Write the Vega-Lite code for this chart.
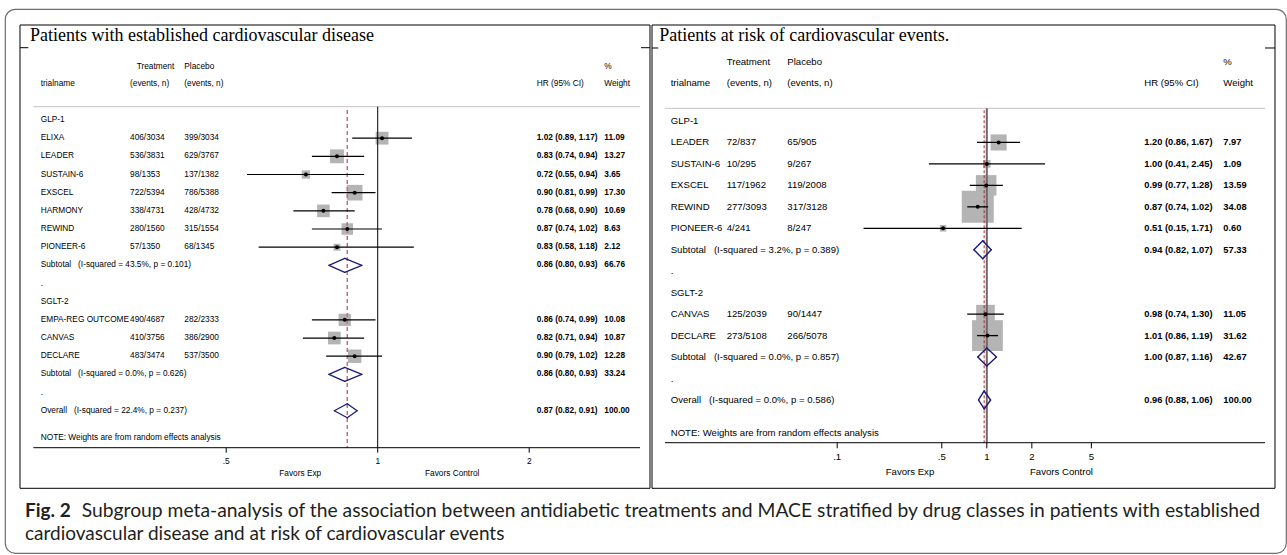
{
"$schema": "https://vega.github.io/schema/vega-lite/v6.json",
"width": 1281, "height": 544,
"padding": {"left": 5, "top": 9, "right": 1, "bottom": 2},
"background": "white",
"config": {"view": {"stroke": "#6f6f6f", "strokeWidth": 1.2, "cornerRadius": 10}},
"datasets": {
"one": [{}],
"left": [
{"row":1,"label":"GLP-1","kind":"group"},
{"row":2,"label":"ELIXA","treat":"406/3034","placebo":"399/3034","hrtext":"1.02 (0.89, 1.17)","wt":11.09,"hr":1.02,"lo":0.89,"hi":1.17,"kind":"study"},
{"row":3,"label":"LEADER","treat":"536/3831","placebo":"629/3767","hrtext":"0.83 (0.74, 0.94)","wt":13.27,"hr":0.83,"lo":0.74,"hi":0.94,"kind":"study"},
{"row":4,"label":"SUSTAIN-6","treat":"98/1353","placebo":"137/1382","hrtext":"0.72 (0.55, 0.94)","wt":3.65,"hr":0.72,"lo":0.55,"hi":0.94,"kind":"study"},
{"row":5,"label":"EXSCEL","treat":"722/5394","placebo":"786/5388","hrtext":"0.90 (0.81, 0.99)","wt":17.30,"hr":0.90,"lo":0.81,"hi":0.99,"kind":"study"},
{"row":6,"label":"HARMONY","treat":"338/4731","placebo":"428/4732","hrtext":"0.78 (0.68, 0.90)","wt":10.69,"hr":0.78,"lo":0.68,"hi":0.90,"kind":"study"},
{"row":7,"label":"REWIND","treat":"280/1560","placebo":"315/1554","hrtext":"0.87 (0.74, 1.02)","wt":8.63,"hr":0.87,"lo":0.74,"hi":1.02,"kind":"study"},
{"row":8,"label":"PIONEER-6","treat":"57/1350","placebo":"68/1345","hrtext":"0.83 (0.58, 1.18)","wt":2.12,"hr":0.83,"lo":0.58,"hi":1.18,"kind":"study"},
{"row":9,"label":"Subtotal\u00a0\u00a0\u00a0(I-squared = 43.5%, p = 0.101)","hrtext":"0.86 (0.80, 0.93)","wt":66.76,"hr":0.86,"lo":0.80,"hi":0.93,"kind":"sub"},
{"row":10,"label":".","kind":"blank"},
{"row":11,"label":"SGLT-2","kind":"group"},
{"row":12,"label":"EMPA-REG OUTCOME","treat":"490/4687","placebo":"282/2333","hrtext":"0.86 (0.74, 0.99)","wt":10.08,"hr":0.86,"lo":0.74,"hi":0.99,"kind":"study"},
{"row":13,"label":"CANVAS","treat":"410/3756","placebo":"386/2900","hrtext":"0.82 (0.71, 0.94)","wt":10.87,"hr":0.82,"lo":0.71,"hi":0.94,"kind":"study"},
{"row":14,"label":"DECLARE","treat":"483/3474","placebo":"537/3500","hrtext":"0.90 (0.79, 1.02)","wt":12.28,"hr":0.90,"lo":0.79,"hi":1.02,"kind":"study"},
{"row":15,"label":"Subtotal\u00a0\u00a0\u00a0(I-squared = 0.0%, p = 0.626)","hrtext":"0.86 (0.80, 0.93)","wt":33.24,"hr":0.86,"lo":0.80,"hi":0.93,"kind":"sub"},
{"row":16,"label":".","kind":"blank"},
{"row":17,"label":"Overall\u00a0\u00a0\u00a0(I-squared = 22.4%, p = 0.237)","hrtext":"0.87 (0.82, 0.91)","wt":100.00,"hr":0.87,"lo":0.82,"hi":0.91,"kind":"overall"}
],
"right": [
{"row":1,"label":"GLP-1","kind":"group"},
{"row":2,"label":"LEADER","treat":"72/837","placebo":"65/905","hrtext":"1.20 (0.86, 1.67)","wt":7.97,"hr":1.20,"lo":0.86,"hi":1.67,"kind":"study"},
{"row":3,"label":"SUSTAIN-6","treat":"10/295","placebo":"9/267","hrtext":"1.00 (0.41, 2.45)","wt":1.09,"hr":1.00,"lo":0.41,"hi":2.45,"kind":"study"},
{"row":4,"label":"EXSCEL","treat":"117/1962","placebo":"119/2008","hrtext":"0.99 (0.77, 1.28)","wt":13.59,"hr":0.99,"lo":0.77,"hi":1.28,"kind":"study"},
{"row":5,"label":"REWIND","treat":"277/3093","placebo":"317/3128","hrtext":"0.87 (0.74, 1.02)","wt":34.08,"hr":0.87,"lo":0.74,"hi":1.02,"kind":"study"},
{"row":6,"label":"PIONEER-6","treat":"4/241","placebo":"8/247","hrtext":"0.51 (0.15, 1.71)","wt":0.60,"hr":0.51,"lo":0.15,"hi":1.71,"kind":"study"},
{"row":7,"label":"Subtotal\u00a0\u00a0\u00a0(I-squared = 3.2%, p = 0.389)","hrtext":"0.94 (0.82, 1.07)","wt":57.33,"hr":0.94,"lo":0.82,"hi":1.07,"kind":"sub"},
{"row":8,"label":".","kind":"blank"},
{"row":9,"label":"SGLT-2","kind":"group"},
{"row":10,"label":"CANVAS","treat":"125/2039","placebo":"90/1447","hrtext":"0.98 (0.74, 1.30)","wt":11.05,"hr":0.98,"lo":0.74,"hi":1.30,"kind":"study"},
{"row":11,"label":"DECLARE","treat":"273/5108","placebo":"266/5078","hrtext":"1.01 (0.86, 1.19)","wt":31.62,"hr":1.01,"lo":0.86,"hi":1.19,"kind":"study"},
{"row":12,"label":"Subtotal\u00a0\u00a0\u00a0(I-squared = 0.0%, p = 0.857)","hrtext":"1.00 (0.87, 1.16)","wt":42.67,"hr":1.00,"lo":0.87,"hi":1.16,"kind":"sub"},
{"row":13,"label":".","kind":"blank"},
{"row":14,"label":"Overall\u00a0\u00a0\u00a0(I-squared = 0.0%, p = 0.586)","hrtext":"0.96 (0.88, 1.06)","wt":100.00,"hr":0.96,"lo":0.88,"hi":1.06,"kind":"overall"}
],
"lticks": [{"v":0.5,"lab":".5"},{"v":1,"lab":"1"},{"v":2,"lab":"2"}],
"rticks": [{"v":0.1,"lab":".1"},{"v":0.5,"lab":".5"},{"v":1,"lab":"1"},{"v":2,"lab":"2"},{"v":5,"lab":"5"}]
},
"layer": [
{
"layer": [
{"data":{"name":"one"},"mark":{"type":"rect","fillOpacity":0,"stroke":"#000","strokeWidth":1},
 "encoding":{"x":{"datum":0.19463,"type":"quantitative","scale":{"type":"log","domain":[0.18173,63.796],"nice":false},"axis":null},"x2":{"datum":3.4757},
 "y":{"datum":-4.228,"type":"quantitative","scale":{"domain":[-5.109,24.8305],"reverse":true,"nice":false,"zero":false},"axis":null},"y2":{"datum":21.27}}},
{"data":{"name":"one"},"mark":{"type":"rule","color":"#000","strokeWidth":1},
 "encoding":{"x":{"datum":0.19463,"type":"quantitative","scale":{"type":"log","domain":[0.18173,63.796],"nice":false},"axis":null},"x2":{"datum":0.20218},
 "y":{"datum":-2.979,"type":"quantitative","scale":{"domain":[-5.109,24.8305],"reverse":true,"nice":false,"zero":false},"axis":null}}},
{"data":{"name":"one"},"mark":{"type":"rule","color":"#000","strokeWidth":1},
 "encoding":{"x":{"datum":3.3355,"type":"quantitative","scale":{"type":"log","domain":[0.18173,63.796],"nice":false},"axis":null},"x2":{"datum":3.4757},
 "y":{"datum":-2.979,"type":"quantitative","scale":{"domain":[-5.109,24.8305],"reverse":true,"nice":false,"zero":false},"axis":null}}},
{"data":{"name":"one"},"mark":{"type":"text","align":"left","baseline":"alphabetic","font":"Liberation Serif","fontSize":18,"color":"#000"},
 "encoding":{"x":{"datum":0.20376,"type":"quantitative","scale":{"type":"log","domain":[0.18173,63.796],"nice":false},"axis":null},
 "y":{"datum":-3.348,"type":"quantitative","scale":{"domain":[-5.109,24.8305],"reverse":true,"nice":false,"zero":false},"axis":null},
 "text":{"value":"Patients with established cardiovascular disease"}}},
{"data":{"name":"one"},"mark":{"type":"text","align":"left","baseline":"middle","font":"Liberation Sans","fontSize":8.3,"color":"#000"},
 "encoding":{"x":{"datum":0.3320,"type":"quantitative","scale":{"type":"log","domain":[0.18173,63.796],"nice":false},"axis":null},
 "y":{"datum":-1.93,"type":"quantitative","scale":{"domain":[-5.109,24.8305],"reverse":true,"nice":false,"zero":false},"axis":null},"text":{"value":"Treatment"}}},
{"data":{"name":"one"},"mark":{"type":"text","align":"left","baseline":"middle","font":"Liberation Sans","fontSize":8.3,"color":"#000"},
 "encoding":{"x":{"datum":0.41275,"type":"quantitative","scale":{"type":"log","domain":[0.18173,63.796],"nice":false},"axis":null},
 "y":{"datum":-1.93,"type":"quantitative","scale":{"domain":[-5.109,24.8305],"reverse":true,"nice":false,"zero":false},"axis":null},"text":{"value":"Placebo"}}},
{"data":{"name":"one"},"mark":{"type":"text","align":"left","baseline":"middle","font":"Liberation Sans","fontSize":8.3,"color":"#000"},
 "encoding":{"x":{"datum":2.8200,"type":"quantitative","scale":{"type":"log","domain":[0.18173,63.796],"nice":false},"axis":null},
 "y":{"datum":-1.93,"type":"quantitative","scale":{"domain":[-5.109,24.8305],"reverse":true,"nice":false,"zero":false},"axis":null},"text":{"value":"%"}}},
{"data":{"name":"one"},"mark":{"type":"text","align":"left","baseline":"middle","font":"Liberation Sans","fontSize":8.3,"color":"#000"},
 "encoding":{"x":{"datum":0.21398,"type":"quantitative","scale":{"type":"log","domain":[0.18173,63.796],"nice":false},"axis":null},
 "y":{"datum":-0.97,"type":"quantitative","scale":{"domain":[-5.109,24.8305],"reverse":true,"nice":false,"zero":false},"axis":null},"text":{"value":"trialname"}}},
{"data":{"name":"one"},"mark":{"type":"text","align":"left","baseline":"middle","font":"Liberation Sans","fontSize":8.3,"color":"#000"},
 "encoding":{"x":{"datum":0.3220,"type":"quantitative","scale":{"type":"log","domain":[0.18173,63.796],"nice":false},"axis":null},
 "y":{"datum":-0.97,"type":"quantitative","scale":{"domain":[-5.109,24.8305],"reverse":true,"nice":false,"zero":false},"axis":null},"text":{"value":"(events, n)"}}},
{"data":{"name":"one"},"mark":{"type":"text","align":"left","baseline":"middle","font":"Liberation Sans","fontSize":8.3,"color":"#000"},
 "encoding":{"x":{"datum":0.41275,"type":"quantitative","scale":{"type":"log","domain":[0.18173,63.796],"nice":false},"axis":null},
 "y":{"datum":-0.97,"type":"quantitative","scale":{"domain":[-5.109,24.8305],"reverse":true,"nice":false,"zero":false},"axis":null},"text":{"value":"(events, n)"}}},
{"data":{"name":"one"},"mark":{"type":"text","align":"left","baseline":"middle","font":"Liberation Sans","fontSize":8.3,"color":"#000"},
 "encoding":{"x":{"datum":2.0699,"type":"quantitative","scale":{"type":"log","domain":[0.18173,63.796],"nice":false},"axis":null},
 "y":{"datum":-0.97,"type":"quantitative","scale":{"domain":[-5.109,24.8305],"reverse":true,"nice":false,"zero":false},"axis":null},"text":{"value":"HR (95% CI)"}}},
{"data":{"name":"one"},"mark":{"type":"text","align":"left","baseline":"middle","font":"Liberation Sans","fontSize":8.3,"color":"#000"},
 "encoding":{"x":{"datum":2.8200,"type":"quantitative","scale":{"type":"log","domain":[0.18173,63.796],"nice":false},"axis":null},
 "y":{"datum":-0.97,"type":"quantitative","scale":{"domain":[-5.109,24.8305],"reverse":true,"nice":false,"zero":false},"axis":null},"text":{"value":"Weight"}}},
{"data":{"name":"one"},"mark":{"type":"rule","color":"#c4c4c4","strokeWidth":1},
 "encoding":{"x":{"datum":0.20686,"type":"quantitative","scale":{"type":"log","domain":[0.18173,63.796],"nice":false},"axis":null},"x2":{"datum":3.3203},
 "y":{"datum":0.268,"type":"quantitative","scale":{"domain":[-5.109,24.8305],"reverse":true,"nice":false,"zero":false},"axis":null}}},
{"data":{"name":"left"},"transform":[{"filter":"datum.kind == 'study'"}],"mark":{"type":"square","color":"#b4b4b4","opacity":1},
 "encoding":{"x":{"field":"hr","type":"quantitative","scale":{"type":"log","domain":[0.18173,63.796],"nice":false},"axis":null},
 "y":{"field":"row","type":"quantitative","scale":{"domain":[-5.109,24.8305],"reverse":true,"nice":false,"zero":false},"axis":null},
 "size":{"field":"wt","type":"quantitative","scale":{"domain":[0,20],"range":[20,280]},"legend":null}}},
{"data":{"name":"one"},"mark":{"type":"rule","color":"#000","strokeWidth":1},
 "encoding":{"x":{"datum":1,"type":"quantitative","scale":{"type":"log","domain":[0.18173,63.796],"nice":false},"axis":null},
 "y":{"datum":0.268,"type":"quantitative","scale":{"domain":[-5.109,24.8305],"reverse":true,"nice":false,"zero":false},"axis":null},"y2":{"datum":19.035}}},
{"data":{"name":"left"},"transform":[{"filter":"datum.kind == 'overall'"}],"mark":{"type":"rule","color":"#c0707c","strokeWidth":1.5,"strokeDash":[4,3]},
 "encoding":{"x":{"field":"hr","type":"quantitative","scale":{"type":"log","domain":[0.18173,63.796],"nice":false},"axis":null},
 "y":{"datum":0.45,"type":"quantitative","scale":{"domain":[-5.109,24.8305],"reverse":true,"nice":false,"zero":false},"axis":null},"y2":{"datum":19.035}}},
{"data":{"name":"left"},"transform":[{"filter":"datum.kind == 'study'"}],"mark":{"type":"rule","color":"#000","strokeWidth":1.2},
 "encoding":{"x":{"field":"lo","type":"quantitative","scale":{"type":"log","domain":[0.18173,63.796],"nice":false},"axis":null},"x2":{"field":"hi"},
 "y":{"field":"row","type":"quantitative","scale":{"domain":[-5.109,24.8305],"reverse":true,"nice":false,"zero":false},"axis":null}}},
{"data":{"name":"left"},"transform":[{"filter":"datum.kind == 'study'"}],"mark":{"type":"point","filled":true,"shape":"circle","size":16,"color":"#000","opacity":1},
 "encoding":{"x":{"field":"hr","type":"quantitative","scale":{"type":"log","domain":[0.18173,63.796],"nice":false},"axis":null},
 "y":{"field":"row","type":"quantitative","scale":{"domain":[-5.109,24.8305],"reverse":true,"nice":false,"zero":false},"axis":null}}},
{"data":{"name":"left"},"transform":[{"filter":"datum.kind == 'sub' || datum.kind == 'overall'"}],"mark":{"type":"rule","color":"#1c1c78","strokeWidth":1.3,"strokeCap":"round","y2Offset":-7},
 "encoding":{"x":{"field":"lo","type":"quantitative","scale":{"type":"log","domain":[0.18173,63.796],"nice":false},"axis":null},"x2":{"field":"hr"},
 "y":{"field":"row","type":"quantitative","scale":{"domain":[-5.109,24.8305],"reverse":true,"nice":false,"zero":false},"axis":null},"y2":{"field":"row"}}},
{"data":{"name":"left"},"transform":[{"filter":"datum.kind == 'sub' || datum.kind == 'overall'"}],"mark":{"type":"rule","color":"#1c1c78","strokeWidth":1.3,"strokeCap":"round","yOffset":-7},
 "encoding":{"x":{"field":"hr","type":"quantitative","scale":{"type":"log","domain":[0.18173,63.796],"nice":false},"axis":null},"x2":{"field":"hi"},
 "y":{"field":"row","type":"quantitative","scale":{"domain":[-5.109,24.8305],"reverse":true,"nice":false,"zero":false},"axis":null},"y2":{"field":"row"}}},
{"data":{"name":"left"},"transform":[{"filter":"datum.kind == 'sub' || datum.kind == 'overall'"}],"mark":{"type":"rule","color":"#1c1c78","strokeWidth":1.3,"strokeCap":"round","y2Offset":7},
 "encoding":{"x":{"field":"hi","type":"quantitative","scale":{"type":"log","domain":[0.18173,63.796],"nice":false},"axis":null},"x2":{"field":"hr"},
 "y":{"field":"row","type":"quantitative","scale":{"domain":[-5.109,24.8305],"reverse":true,"nice":false,"zero":false},"axis":null},"y2":{"field":"row"}}},
{"data":{"name":"left"},"transform":[{"filter":"datum.kind == 'sub' || datum.kind == 'overall'"}],"mark":{"type":"rule","color":"#1c1c78","strokeWidth":1.3,"strokeCap":"round","yOffset":7},
 "encoding":{"x":{"field":"hr","type":"quantitative","scale":{"type":"log","domain":[0.18173,63.796],"nice":false},"axis":null},"x2":{"field":"lo"},
 "y":{"field":"row","type":"quantitative","scale":{"domain":[-5.109,24.8305],"reverse":true,"nice":false,"zero":false},"axis":null},"y2":{"field":"row"}}},
{"data":{"name":"left"},"mark":{"type":"text","align":"left","baseline":"middle","font":"Liberation Sans","fontSize":8.3,"color":"#000"},
 "encoding":{"x":{"datum":0.21398,"type":"quantitative","scale":{"type":"log","domain":[0.18173,63.796],"nice":false},"axis":null},
 "y":{"field":"row","type":"quantitative","scale":{"domain":[-5.109,24.8305],"reverse":true,"nice":false,"zero":false},"axis":null},"text":{"field":"label"}}},
{"data":{"name":"left"},"transform":[{"filter":"isValid(datum.treat)"}],"mark":{"type":"text","align":"left","baseline":"middle","font":"Liberation Sans","fontSize":8.3,"color":"#000"},
 "encoding":{"x":{"datum":0.3220,"type":"quantitative","scale":{"type":"log","domain":[0.18173,63.796],"nice":false},"axis":null},
 "y":{"field":"row","type":"quantitative","scale":{"domain":[-5.109,24.8305],"reverse":true,"nice":false,"zero":false},"axis":null},"text":{"field":"treat"}}},
{"data":{"name":"left"},"transform":[{"filter":"isValid(datum.placebo)"}],"mark":{"type":"text","align":"left","baseline":"middle","font":"Liberation Sans","fontSize":8.3,"color":"#000"},
 "encoding":{"x":{"datum":0.41275,"type":"quantitative","scale":{"type":"log","domain":[0.18173,63.796],"nice":false},"axis":null},
 "y":{"field":"row","type":"quantitative","scale":{"domain":[-5.109,24.8305],"reverse":true,"nice":false,"zero":false},"axis":null},"text":{"field":"placebo"}}},
{"data":{"name":"left"},"transform":[{"filter":"isValid(datum.hrtext)"}],"mark":{"type":"text","align":"left","baseline":"middle","font":"Liberation Sans","fontSize":8.3,"fontWeight":"bold","color":"#000"},
 "encoding":{"x":{"datum":2.0699,"type":"quantitative","scale":{"type":"log","domain":[0.18173,63.796],"nice":false},"axis":null},
 "y":{"field":"row","type":"quantitative","scale":{"domain":[-5.109,24.8305],"reverse":true,"nice":false,"zero":false},"axis":null},"text":{"field":"hrtext"}}},
{"data":{"name":"left"},"transform":[{"filter":"isValid(datum.wt)"}],"mark":{"type":"text","align":"left","baseline":"middle","font":"Liberation Sans","fontSize":8.3,"fontWeight":"bold","color":"#000"},
 "encoding":{"x":{"datum":2.8200,"type":"quantitative","scale":{"type":"log","domain":[0.18173,63.796],"nice":false},"axis":null},
 "y":{"field":"row","type":"quantitative","scale":{"domain":[-5.109,24.8305],"reverse":true,"nice":false,"zero":false},"axis":null},"text":{"field":"wt","type":"quantitative","format":".2f"}}},
{"data":{"name":"one"},"mark":{"type":"text","align":"left","baseline":"middle","font":"Liberation Sans","fontSize":8.3,"color":"#000"},
 "encoding":{"x":{"datum":0.21398,"type":"quantitative","scale":{"type":"log","domain":[0.18173,63.796],"nice":false},"axis":null},
 "y":{"datum":18.518,"type":"quantitative","scale":{"domain":[-5.109,24.8305],"reverse":true,"nice":false,"zero":false},"axis":null},"text":{"value":"NOTE: Weights are from random effects analysis"}}},
{"data":{"name":"one"},"mark":{"type":"rule","color":"#000","strokeWidth":1},
 "encoding":{"x":{"datum":0.20686,"type":"quantitative","scale":{"type":"log","domain":[0.18173,63.796],"nice":false},"axis":null},"x2":{"datum":3.3203},
 "y":{"datum":19.035,"type":"quantitative","scale":{"domain":[-5.109,24.8305],"reverse":true,"nice":false,"zero":false},"axis":null}}},
{"data":{"name":"lticks"},"mark":{"type":"rule","color":"#000","strokeWidth":1},
 "encoding":{"x":{"field":"v","type":"quantitative","scale":{"type":"log","domain":[0.18173,63.796],"nice":false},"axis":null},
 "y":{"datum":19.035,"type":"quantitative","scale":{"domain":[-5.109,24.8305],"reverse":true,"nice":false,"zero":false},"axis":null},"y2":{"datum":19.31}}},
{"data":{"name":"lticks"},"mark":{"type":"text","align":"center","baseline":"middle","font":"Liberation Sans","fontSize":8.3,"color":"#000"},
 "encoding":{"x":{"field":"v","type":"quantitative","scale":{"type":"log","domain":[0.18173,63.796],"nice":false},"axis":null},
 "y":{"datum":19.806,"type":"quantitative","scale":{"domain":[-5.109,24.8305],"reverse":true,"nice":false,"zero":false},"axis":null},"text":{"field":"lab"}}},
{"data":{"name":"one"},"mark":{"type":"text","align":"left","baseline":"middle","font":"Liberation Sans","fontSize":8.3,"color":"#000"},
 "encoding":{"x":{"datum":0.6374,"type":"quantitative","scale":{"type":"log","domain":[0.18173,63.796],"nice":false},"axis":null},
 "y":{"datum":20.483,"type":"quantitative","scale":{"domain":[-5.109,24.8305],"reverse":true,"nice":false,"zero":false},"axis":null},"text":{"value":"Favors Exp"}}},
{"data":{"name":"one"},"mark":{"type":"text","align":"left","baseline":"middle","font":"Liberation Sans","fontSize":8.3,"color":"#000"},
 "encoding":{"x":{"datum":1.2415,"type":"quantitative","scale":{"type":"log","domain":[0.18173,63.796],"nice":false},"axis":null},
 "y":{"datum":20.483,"type":"quantitative","scale":{"domain":[-5.109,24.8305],"reverse":true,"nice":false,"zero":false},"axis":null},"text":{"value":"Favors Control"}}},
{"data":{"name":"one"},"mark":{"type":"text","align":"left","baseline":"alphabetic","font":"Lato","fontSize":19,"fontWeight":"bold","color":"#231f20"},
 "encoding":{"x":{"datum":0.19912,"type":"quantitative","scale":{"type":"log","domain":[0.18173,63.796],"nice":false},"axis":null},
 "y":{"datum":22.849,"type":"quantitative","scale":{"domain":[-5.109,24.8305],"reverse":true,"nice":false,"zero":false},"axis":null},"text":{"value":"Fig. 2"}}},
{"data":{"name":"one"},"mark":{"type":"text","align":"left","baseline":"alphabetic","font":"Lato","fontSize":19.3,"color":"#231f20"},
 "encoding":{"x":{"datum":0.25813,"type":"quantitative","scale":{"type":"log","domain":[0.18173,63.796],"nice":false},"axis":null},
 "y":{"datum":22.849,"type":"quantitative","scale":{"domain":[-5.109,24.8305],"reverse":true,"nice":false,"zero":false},"axis":null},"text":{"value":"Subgroup meta-analysis of the association between antidiabetic treatments and MACE stratified by drug classes in patients with established"}}},
{"data":{"name":"one"},"mark":{"type":"text","align":"left","baseline":"alphabetic","font":"Lato","fontSize":19,"color":"#231f20"},
 "encoding":{"x":{"datum":0.19912,"type":"quantitative","scale":{"type":"log","domain":[0.18173,63.796],"nice":false},"axis":null},
 "y":{"datum":24.115,"type":"quantitative","scale":{"domain":[-5.109,24.8305],"reverse":true,"nice":false,"zero":false},"axis":null},"text":{"value":"cardiovascular disease and at risk of cardiovascular events"}}}
]
},
{
"layer": [
{"data":{"name":"one"},"mark":{"type":"rect","fillOpacity":0,"stroke":"#000","strokeWidth":1},
 "encoding":{"x":{"datum":0.0057813,"type":"quantitative","scale":{"type":"log","domain":[2.736e-7,100],"nice":false},"axis":null},"x2":{"datum":84.42},
 "y":{"datum":-3.4734,"type":"quantitative","scale":{"domain":[-4.219,21.1305],"reverse":true,"nice":false,"zero":false},"axis":null},"y2":{"datum":18.1156}}},
{"data":{"name":"one"},"mark":{"type":"rule","color":"#000","strokeWidth":1},
 "encoding":{"x":{"datum":0.0057813,"type":"quantitative","scale":{"type":"log","domain":[2.736e-7,100],"nice":false},"axis":null},"x2":{"datum":0.0063699},
 "y":{"datum":-2.4017,"type":"quantitative","scale":{"domain":[-4.219,21.1305],"reverse":true,"nice":false,"zero":false},"axis":null}}},
{"data":{"name":"one"},"mark":{"type":"rule","color":"#000","strokeWidth":1},
 "encoding":{"x":{"datum":72.38,"type":"quantitative","scale":{"type":"log","domain":[2.736e-7,100],"nice":false},"axis":null},"x2":{"datum":84.42},
 "y":{"datum":-2.4017,"type":"quantitative","scale":{"domain":[-4.219,21.1305],"reverse":true,"nice":false,"zero":false},"axis":null}}},
{"data":{"name":"one"},"mark":{"type":"text","align":"left","baseline":"alphabetic","font":"Liberation Serif","fontSize":18,"color":"#000"},
 "encoding":{"x":{"datum":0.0064685,"type":"quantitative","scale":{"type":"log","domain":[2.736e-7,100],"nice":false},"axis":null},
 "y":{"datum":-2.7046,"type":"quantitative","scale":{"domain":[-4.219,21.1305],"reverse":true,"nice":false,"zero":false},"axis":null},
 "text":{"value":"Patients at risk of cardiovascular events."}}},
{"data":{"name":"one"},"mark":{"type":"text","align":"left","baseline":"middle","font":"Liberation Sans","fontSize":9.6,"color":"#000"},
 "encoding":{"x":{"datum":0.018254,"type":"quantitative","scale":{"type":"log","domain":[2.736e-7,100],"nice":false},"axis":null},
 "y":{"datum":-1.7353,"type":"quantitative","scale":{"domain":[-4.219,21.1305],"reverse":true,"nice":false,"zero":false},"axis":null},"text":{"value":"Treatment"}}},
{"data":{"name":"one"},"mark":{"type":"text","align":"left","baseline":"middle","font":"Liberation Sans","fontSize":9.6,"color":"#000"},
 "encoding":{"x":{"datum":0.046393,"type":"quantitative","scale":{"type":"log","domain":[2.736e-7,100],"nice":false},"axis":null},
 "y":{"datum":-1.7353,"type":"quantitative","scale":{"domain":[-4.219,21.1305],"reverse":true,"nice":false,"zero":false},"axis":null},"text":{"value":"Placebo"}}},
{"data":{"name":"one"},"mark":{"type":"text","align":"left","baseline":"middle","font":"Liberation Sans","fontSize":9.6,"color":"#000"},
 "encoding":{"x":{"datum":38.09,"type":"quantitative","scale":{"type":"log","domain":[2.736e-7,100],"nice":false},"axis":null},
 "y":{"datum":-1.7353,"type":"quantitative","scale":{"domain":[-4.219,21.1305],"reverse":true,"nice":false,"zero":false},"axis":null},"text":{"value":"%"}}},
{"data":{"name":"one"},"mark":{"type":"text","align":"left","baseline":"middle","font":"Liberation Sans","fontSize":9.6,"color":"#000"},
 "encoding":{"x":{"datum":0.0077096,"type":"quantitative","scale":{"type":"log","domain":[2.736e-7,100],"nice":false},"axis":null},
 "y":{"datum":-0.7568,"type":"quantitative","scale":{"domain":[-4.219,21.1305],"reverse":true,"nice":false,"zero":false},"axis":null},"text":{"value":"trialname"}}},
{"data":{"name":"one"},"mark":{"type":"text","align":"left","baseline":"middle","font":"Liberation Sans","fontSize":9.6,"color":"#000"},
 "encoding":{"x":{"datum":0.018254,"type":"quantitative","scale":{"type":"log","domain":[2.736e-7,100],"nice":false},"axis":null},
 "y":{"datum":-0.7568,"type":"quantitative","scale":{"domain":[-4.219,21.1305],"reverse":true,"nice":false,"zero":false},"axis":null},"text":{"value":"(events, n)"}}},
{"data":{"name":"one"},"mark":{"type":"text","align":"left","baseline":"middle","font":"Liberation Sans","fontSize":9.6,"color":"#000"},
 "encoding":{"x":{"datum":0.046393,"type":"quantitative","scale":{"type":"log","domain":[2.736e-7,100],"nice":false},"axis":null},
 "y":{"datum":-0.7568,"type":"quantitative","scale":{"domain":[-4.219,21.1305],"reverse":true,"nice":false,"zero":false},"axis":null},"text":{"value":"(events, n)"}}},
{"data":{"name":"one"},"mark":{"type":"text","align":"left","baseline":"middle","font":"Liberation Sans","fontSize":9.6,"color":"#000"},
 "encoding":{"x":{"datum":11.292,"type":"quantitative","scale":{"type":"log","domain":[2.736e-7,100],"nice":false},"axis":null},
 "y":{"datum":-0.7568,"type":"quantitative","scale":{"domain":[-4.219,21.1305],"reverse":true,"nice":false,"zero":false},"axis":null},"text":{"value":"HR (95% CI)"}}},
{"data":{"name":"one"},"mark":{"type":"text","align":"left","baseline":"middle","font":"Liberation Sans","fontSize":9.6,"color":"#000"},
 "encoding":{"x":{"datum":38.09,"type":"quantitative","scale":{"type":"log","domain":[2.736e-7,100],"nice":false},"axis":null},
 "y":{"datum":-0.7568,"type":"quantitative","scale":{"domain":[-4.219,21.1305],"reverse":true,"nice":false,"zero":false},"axis":null},"text":{"value":"Weight"}}},
{"data":{"name":"one"},"mark":{"type":"rule","color":"#c4c4c4","strokeWidth":1},
 "encoding":{"x":{"datum":0.0070621,"type":"quantitative","scale":{"type":"log","domain":[2.736e-7,100],"nice":false},"axis":null},"x2":{"datum":72.38},
 "y":{"datum":0.4082,"type":"quantitative","scale":{"domain":[-4.219,21.1305],"reverse":true,"nice":false,"zero":false},"axis":null}}},
{"data":{"name":"right"},"transform":[{"filter":"datum.kind == 'study'"}],"mark":{"type":"square","color":"#b4b4b4","opacity":1},
 "encoding":{"x":{"field":"hr","type":"quantitative","scale":{"type":"log","domain":[2.736e-7,100],"nice":false},"axis":null},
 "y":{"field":"row","type":"quantitative","scale":{"domain":[-4.219,21.1305],"reverse":true,"nice":false,"zero":false},"axis":null},
 "size":{"field":"wt","type":"quantitative","scale":{"domain":[0,35],"range":[25,1050]},"legend":null}}},
{"data":{"name":"one"},"mark":{"type":"rule","color":"#6a6a6a","strokeWidth":2},
 "encoding":{"x":{"datum":1,"type":"quantitative","scale":{"type":"log","domain":[2.736e-7,100],"nice":false},"axis":null},
 "y":{"datum":0.4082,"type":"quantitative","scale":{"domain":[-4.219,21.1305],"reverse":true,"nice":false,"zero":false},"axis":null},"y2":{"datum":15.991}}},
{"data":{"name":"right"},"transform":[{"filter":"datum.kind == 'overall'"}],"mark":{"type":"rule","color":"#b5262b","strokeWidth":1,"strokeDash":[3,2]},
 "encoding":{"x":{"field":"hr","type":"quantitative","scale":{"type":"log","domain":[2.736e-7,100],"nice":false},"axis":null},
 "y":{"datum":0.5,"type":"quantitative","scale":{"domain":[-4.219,21.1305],"reverse":true,"nice":false,"zero":false},"axis":null},"y2":{"datum":15.991}}},
{"data":{"name":"right"},"transform":[{"filter":"datum.kind == 'study'"}],"mark":{"type":"rule","color":"#000","strokeWidth":1.3},
 "encoding":{"x":{"field":"lo","type":"quantitative","scale":{"type":"log","domain":[2.736e-7,100],"nice":false},"axis":null},"x2":{"field":"hi"},
 "y":{"field":"row","type":"quantitative","scale":{"domain":[-4.219,21.1305],"reverse":true,"nice":false,"zero":false},"axis":null}}},
{"data":{"name":"right"},"transform":[{"filter":"datum.kind == 'study'"}],"mark":{"type":"point","filled":true,"shape":"circle","size":16,"color":"#000","opacity":1},
 "encoding":{"x":{"field":"hr","type":"quantitative","scale":{"type":"log","domain":[2.736e-7,100],"nice":false},"axis":null},
 "y":{"field":"row","type":"quantitative","scale":{"domain":[-4.219,21.1305],"reverse":true,"nice":false,"zero":false},"axis":null}}},
{"data":{"name":"right"},"transform":[{"filter":"datum.kind == 'sub' || datum.kind == 'overall'"}],"mark":{"type":"rule","color":"#1c1c78","strokeWidth":1.4,"strokeCap":"round","y2Offset":-9},
 "encoding":{"x":{"field":"lo","type":"quantitative","scale":{"type":"log","domain":[2.736e-7,100],"nice":false},"axis":null},"x2":{"field":"hr"},
 "y":{"field":"row","type":"quantitative","scale":{"domain":[-4.219,21.1305],"reverse":true,"nice":false,"zero":false},"axis":null},"y2":{"field":"row"}}},
{"data":{"name":"right"},"transform":[{"filter":"datum.kind == 'sub' || datum.kind == 'overall'"}],"mark":{"type":"rule","color":"#1c1c78","strokeWidth":1.4,"strokeCap":"round","yOffset":-9},
 "encoding":{"x":{"field":"hr","type":"quantitative","scale":{"type":"log","domain":[2.736e-7,100],"nice":false},"axis":null},"x2":{"field":"hi"},
 "y":{"field":"row","type":"quantitative","scale":{"domain":[-4.219,21.1305],"reverse":true,"nice":false,"zero":false},"axis":null},"y2":{"field":"row"}}},
{"data":{"name":"right"},"transform":[{"filter":"datum.kind == 'sub' || datum.kind == 'overall'"}],"mark":{"type":"rule","color":"#1c1c78","strokeWidth":1.4,"strokeCap":"round","y2Offset":9},
 "encoding":{"x":{"field":"hi","type":"quantitative","scale":{"type":"log","domain":[2.736e-7,100],"nice":false},"axis":null},"x2":{"field":"hr"},
 "y":{"field":"row","type":"quantitative","scale":{"domain":[-4.219,21.1305],"reverse":true,"nice":false,"zero":false},"axis":null},"y2":{"field":"row"}}},
{"data":{"name":"right"},"transform":[{"filter":"datum.kind == 'sub' || datum.kind == 'overall'"}],"mark":{"type":"rule","color":"#1c1c78","strokeWidth":1.4,"strokeCap":"round","yOffset":9},
 "encoding":{"x":{"field":"hr","type":"quantitative","scale":{"type":"log","domain":[2.736e-7,100],"nice":false},"axis":null},"x2":{"field":"lo"},
 "y":{"field":"row","type":"quantitative","scale":{"domain":[-4.219,21.1305],"reverse":true,"nice":false,"zero":false},"axis":null},"y2":{"field":"row"}}},
{"data":{"name":"right"},"mark":{"type":"text","align":"left","baseline":"middle","font":"Liberation Sans","fontSize":9.6,"color":"#000"},
 "encoding":{"x":{"datum":0.0077096,"type":"quantitative","scale":{"type":"log","domain":[2.736e-7,100],"nice":false},"axis":null},
 "y":{"field":"row","type":"quantitative","scale":{"domain":[-4.219,21.1305],"reverse":true,"nice":false,"zero":false},"axis":null},"text":{"field":"label"}}},
{"data":{"name":"right"},"transform":[{"filter":"isValid(datum.treat)"}],"mark":{"type":"text","align":"left","baseline":"middle","font":"Liberation Sans","fontSize":9.6,"color":"#000"},
 "encoding":{"x":{"datum":0.018254,"type":"quantitative","scale":{"type":"log","domain":[2.736e-7,100],"nice":false},"axis":null},
 "y":{"field":"row","type":"quantitative","scale":{"domain":[-4.219,21.1305],"reverse":true,"nice":false,"zero":false},"axis":null},"text":{"field":"treat"}}},
{"data":{"name":"right"},"transform":[{"filter":"isValid(datum.placebo)"}],"mark":{"type":"text","align":"left","baseline":"middle","font":"Liberation Sans","fontSize":9.6,"color":"#000"},
 "encoding":{"x":{"datum":0.046393,"type":"quantitative","scale":{"type":"log","domain":[2.736e-7,100],"nice":false},"axis":null},
 "y":{"field":"row","type":"quantitative","scale":{"domain":[-4.219,21.1305],"reverse":true,"nice":false,"zero":false},"axis":null},"text":{"field":"placebo"}}},
{"data":{"name":"right"},"transform":[{"filter":"isValid(datum.hrtext)"}],"mark":{"type":"text","align":"left","baseline":"middle","font":"Liberation Sans","fontSize":9.3,"fontWeight":"bold","color":"#000"},
 "encoding":{"x":{"datum":11.292,"type":"quantitative","scale":{"type":"log","domain":[2.736e-7,100],"nice":false},"axis":null},
 "y":{"field":"row","type":"quantitative","scale":{"domain":[-4.219,21.1305],"reverse":true,"nice":false,"zero":false},"axis":null},"text":{"field":"hrtext"}}},
{"data":{"name":"right"},"transform":[{"filter":"isValid(datum.wt)"}],"mark":{"type":"text","align":"left","baseline":"middle","font":"Liberation Sans","fontSize":9.3,"fontWeight":"bold","color":"#000"},
 "encoding":{"x":{"datum":38.09,"type":"quantitative","scale":{"type":"log","domain":[2.736e-7,100],"nice":false},"axis":null},
 "y":{"field":"row","type":"quantitative","scale":{"domain":[-4.219,21.1305],"reverse":true,"nice":false,"zero":false},"axis":null},"text":{"field":"wt","type":"quantitative","format":".2f"}}},
{"data":{"name":"one"},"mark":{"type":"text","align":"left","baseline":"middle","font":"Liberation Sans","fontSize":9.6,"color":"#000"},
 "encoding":{"x":{"datum":0.0077096,"type":"quantitative","scale":{"type":"log","domain":[2.736e-7,100],"nice":false},"axis":null},
 "y":{"datum":15.553,"type":"quantitative","scale":{"domain":[-4.219,21.1305],"reverse":true,"nice":false,"zero":false},"axis":null},"text":{"value":"NOTE: Weights are from random effects analysis"}}},
{"data":{"name":"one"},"mark":{"type":"rule","color":"#000","strokeWidth":1},
 "encoding":{"x":{"datum":0.0070621,"type":"quantitative","scale":{"type":"log","domain":[2.736e-7,100],"nice":false},"axis":null},"x2":{"datum":72.38},
 "y":{"datum":15.991,"type":"quantitative","scale":{"domain":[-4.219,21.1305],"reverse":true,"nice":false,"zero":false},"axis":null}}},
{"data":{"name":"rticks"},"mark":{"type":"rule","color":"#000","strokeWidth":1},
 "encoding":{"x":{"field":"v","type":"quantitative","scale":{"type":"log","domain":[2.736e-7,100],"nice":false},"axis":null},
 "y":{"datum":15.991,"type":"quantitative","scale":{"domain":[-4.219,21.1305],"reverse":true,"nice":false,"zero":false},"axis":null},"y2":{"datum":16.252}}},
{"data":{"name":"rticks"},"mark":{"type":"text","align":"center","baseline":"middle","font":"Liberation Sans","fontSize":9.6,"color":"#000"},
 "encoding":{"x":{"field":"v","type":"quantitative","scale":{"type":"log","domain":[2.736e-7,100],"nice":false},"axis":null},
 "y":{"datum":16.643,"type":"quantitative","scale":{"domain":[-4.219,21.1305],"reverse":true,"nice":false,"zero":false},"axis":null},"text":{"field":"lab"}}},
{"data":{"name":"one"},"mark":{"type":"text","align":"left","baseline":"middle","font":"Liberation Sans","fontSize":9.6,"color":"#000"},
 "encoding":{"x":{"datum":0.21098,"type":"quantitative","scale":{"type":"log","domain":[2.736e-7,100],"nice":false},"axis":null},
 "y":{"datum":17.342,"type":"quantitative","scale":{"domain":[-4.219,21.1305],"reverse":true,"nice":false,"zero":false},"axis":null},"text":{"value":"Favors Exp"}}},
{"data":{"name":"one"},"mark":{"type":"text","align":"left","baseline":"middle","font":"Liberation Sans","fontSize":9.6,"color":"#000"},
 "encoding":{"x":{"datum":1.9444,"type":"quantitative","scale":{"type":"log","domain":[2.736e-7,100],"nice":false},"axis":null},
 "y":{"datum":17.342,"type":"quantitative","scale":{"domain":[-4.219,21.1305],"reverse":true,"nice":false,"zero":false},"axis":null},"text":{"value":"Favors Control"}}}
]
}
],
"resolve": {"scale": {"x": "independent", "y": "independent", "size": "independent"}}
}
